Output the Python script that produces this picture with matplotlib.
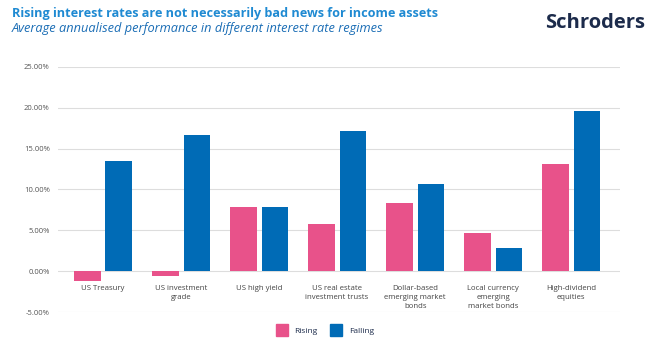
import numpy as np
import matplotlib
matplotlib.use('Agg')
import matplotlib.pyplot as plt
from matplotlib.patches import Patch

plt.rcParams['font.family'] = ['Open Sans', 'DejaVu Sans']

# average annualised performance (%) by regime
categories = ['US Treasury', 'US investment\ngrade', 'US high yield',
              'US real estate\ninvestment trusts', 'Dollar-based\nemerging market\nbonds',
              'Local currency\nemerging\nmarket bonds', 'High-dividend\nequities']
rising = [-1.15, -0.6, 7.8, 5.8, 8.3, 4.65, 13.1]
falling = [13.5, 16.7, 7.8, 17.15, 10.7, 2.85, 19.6]
yticks = [-5, 0, 5, 10, 15, 20, 25]

pink = '#e8528a'
blue = '#006bb6'

fig = plt.figure(figsize=(6.5, 3.42), dpi=100)
ax = fig.add_axes([0.0892, 0.0877, 0.865, 0.7165])

x = np.arange(len(categories))
w = 0.337
ax.bar(x - 0.2, rising, w, color=pink, zorder=3)
ax.bar(x + 0.2, falling, w, color=blue, zorder=3)

ax.set_xlim(-0.577, 6.628)
ax.set_ylim(-5, 25)
ax.set_yticks(yticks)
ax.set_yticklabels(['%.2f%%' % v for v in yticks], fontsize=5.5, color='#555555')
ax.tick_params(axis='y', length=0, pad=6)
ax.set_xticks([])
ax.grid(axis='y', color='#dddddd', linewidth=0.8, zorder=0)
for s in ax.spines.values():
    s.set_visible(False)

# category names sit just under the zero line
for i, c in enumerate(categories):
    ax.annotate(c, (i, 0), xytext=(0, -10), textcoords='offset points',
                ha='center', va='top', fontsize=5.6, color='#444444', linespacing=1.35)

fig.text(0.018, 0.950, 'Rising interest rates are not necessarily bad news for income assets',
         fontsize=9.1, fontweight='bold', color='#1f8ad2', va='baseline')
fig.text(0.018, 0.906, 'Average annualised performance in different interest rate regimes',
         fontsize=9.2, style='italic', color='#1a6db5', va='baseline')
fig.text(0.993, 0.934, 'Schroders', fontsize=14.5, fontweight='bold', color='#1c2b4b',
         ha='right', va='center')

handles = [Patch(color=pink, label='Rising'), Patch(color=blue, label='Falling')]
fig.legend(handles=handles, loc='center', bbox_to_anchor=(0.5, 0.035), ncol=2,
           frameon=False, fontsize=6, handlelength=1.4, handleheight=1.8,
           columnspacing=1.5, labelcolor='#1c2b4b')

fig.savefig('out.png', dpi=100)
